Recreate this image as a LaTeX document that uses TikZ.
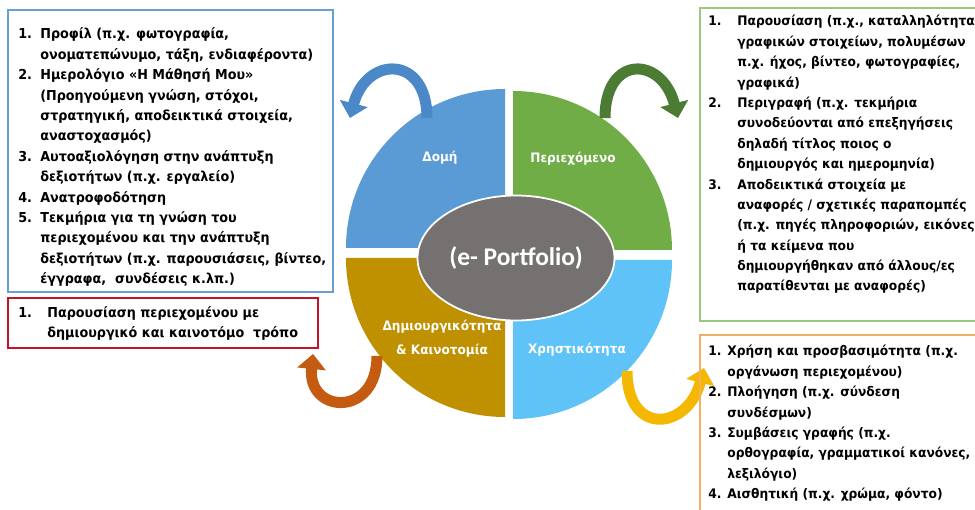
\documentclass[tikz,border=0pt]{standalone}
\usepackage{fontspec}
\setmainfont{DejaVu Sans}[FakeStretch=0.93]
\newfontfamily\ovalfont{Carlito}
\usetikzlibrary{shapes.geometric,arrows.meta}
\definecolor{qblue}{HTML}{5B9BD5}
\definecolor{qgreen}{HTML}{70AD47}
\definecolor{qgold}{HTML}{BF9000}
\definecolor{qlight}{HTML}{5FC3F8}
\definecolor{ovalgray}{HTML}{767171}
\definecolor{arrblue}{HTML}{4A88C8}
\definecolor{arrgreen}{HTML}{4C7C33}
\definecolor{arrorange}{HTML}{C55A11}
\definecolor{arryellow}{HTML}{F4B800}
\definecolor{boxblue}{HTML}{6A9FD4}
\definecolor{boxred}{HTML}{C0142A}
\definecolor{boxgreen}{HTML}{9CC77E}
\definecolor{boxorange}{HTML}{F2B066}
\tikzset{
  listtext/.style={anchor=base west,inner sep=0pt,font=\fontsize{7.8}{11.6}\selectfont\bfseries},
  rightlist/.style={listtext,font=\fontsize{7.5}{11.6}\selectfont\bfseries},
  quadlabel/.style={text=white,align=center,inner sep=0pt,font=\fontsize{7.4}{13.6}\selectfont\bfseries},
  bendarrow/.style={line width=0.22cm,-{Triangle[width=0.56cm,length=0.3cm]}},
  box/.style={line width=0.8pt}
}
\begin{document}
\begin{tikzpicture}[x=0.02cm,y=0.02cm]
\useasboundingbox (0,0) rectangle (975,-510);
\fill[white] (0,0) rectangle (975,-510);

% the four quarters
\fill[qblue] (505,-248) -- ++(-159,0) arc[start angle=180,end angle=90,radius=159] -- cycle;
\fill[qgreen] (513,-250) -- ++(0,159) arc[start angle=90,end angle=0,radius=159] -- cycle;
\fill[qgold] (505,-258) -- ++(0,-159) arc[start angle=270,end angle=180,radius=159] -- cycle;
\fill[qlight] (513,-260) -- ++(159,0) arc[start angle=0,end angle=-90,radius=159] -- cycle;

\node[ellipse,fill=ovalgray,draw=white,line width=1pt,minimum width=3.94cm,minimum height=2.5cm,inner sep=0pt,text=white,
  font=\ovalfont\fontsize{14.5}{16}\selectfont\bfseries] (eport) at (516,-258) {(e- Portfolio)};

\node[quadlabel] (domi) at (440,-158) {Δομή};
\node[quadlabel] (periex) at (573,-159) {Περιεχόμενο};
\node[quadlabel] (dimiourg) at (442,-339) {Δημιουργικότητα\\\& Καινοτομία};
\node[quadlabel] (xrist) at (577,-350) {Χρηστικότητα};

% curved arrows
\coordinate (domi-a) at (427,-118);
\coordinate (domi-b) at (350,-118);
\coordinate (periex-a) at (605,-118);
\coordinate (periex-b) at (678,-118);
\coordinate (dimiourg-a) at (377,-356);
\coordinate (dimiourg-b) at (313,-354);
\coordinate (xrist-a) at (627,-371);
\coordinate (xrist-b) at (704,-368);
\draw[bendarrow,arrblue] (domi-a) .. controls +(0,64) and +(16,62) .. (domi-b);
\draw[bendarrow,arrgreen] (periex-a) .. controls +(0,64) and +(-16,62) .. (periex-b);
\draw[bendarrow,arrorange] (dimiourg-a) .. controls +(0,-62) and +(-6,-60) .. (dimiourg-b);
\draw[bendarrow,arryellow] (xrist-a) .. controls +(0,-66) and +(-16,-62) .. (xrist-b);

% boxes
\draw[box,boxblue] (8,-10) rectangle (333,-292);
\draw[box,boxred,line width=1.1pt] (8,-298) rectangle (318,-348);
\draw[box,boxgreen] (700,-8) rectangle (985,-321);
\draw[box,boxorange] (700,-335) rectangle (985,-520);

\node[listtext] (domilist) at (18,-39) {\begin{tabular}[t]{@{}p{0.44cm}@{}l@{}}
1. & Προφίλ (π.χ. φωτογραφία,\\
   & ονοματεπώνυμο, τάξη, ενδιαφέροντα)\\
2. & Ημερολόγιο «Η Μάθησή Μου»\\
   & (Προηγούμενη γνώση, στόχοι,\\
   & στρατηγική, αποδεικτικά στοιχεία,\\
   & αναστοχασμός)\\
3. & Αυτοαξιολόγηση στην ανάπτυξη\\
   & δεξιοτήτων (π.χ. εργαλείο)\\
4. & Ανατροφοδότηση\\
5. & Τεκμήρια για τη γνώση του\\
   & περιεχομένου και την ανάπτυξη\\
   & δεξιοτήτων (π.χ. παρουσιάσεις, βίντεο,\\
   & έγγραφα,\ \ συνδέσεις κ.λπ.)
\end{tabular}};

\node[listtext] (dimiourglist) at (18,-317) {\begin{tabular}[t]{@{}p{0.58cm}@{}l@{}}
1. & Παρουσίαση περιεχομένου με\\
   & δημιουργικό και καινοτόμο\ \ τρόπο
\end{tabular}};

\node[rightlist] (periexlist) at (708,-26) {\begin{tabular}[t]{@{}p{0.58cm}@{}l@{}}
1. & Παρουσίαση (π.χ., καταλληλότητα\\
   & γραφικών στοιχείων, πολυμέσων\\
   & π.χ. ήχος, βίντεο, φωτογραφίες,\\
   & γραφικά)\\
2. & Περιγραφή (π.χ. τεκμήρια\\
   & συνοδεύονται από επεξηγήσεις\\
   & δηλαδή τίτλος ποιος ο\\
   & δημιουργός και ημερομηνία)\\
3. & Αποδεικτικά στοιχεία με\\
   & αναφορές / σχετικές παραπομπές\\
   & (π.χ. πηγές πληροφοριών, εικόνες\\
   & ή τα κείμενα που\\
   & δημιουργήθηκαν από άλλους/ες\\
   & παρατίθενται με αναφορές)
\end{tabular}};

\node[rightlist] (xristlist) at (708,-356) {\begin{tabular}[t]{@{}p{0.38cm}@{}l@{}}
1. & Χρήση και προσβασιμότητα (π.χ.\\
   & οργάνωση περιεχομένου)\\
2. & Πλοήγηση (π.χ. σύνδεση\\
   & συνδέσμων)\\
3. & Συμβάσεις γραφής (π.χ.\\
   & ορθογραφία, γραμματικοί κανόνες,\\
   & λεξιλόγιο)\\
4. & Αισθητική (π.χ. χρώμα, φόντο)
\end{tabular}};
\end{tikzpicture}
\end{document}
